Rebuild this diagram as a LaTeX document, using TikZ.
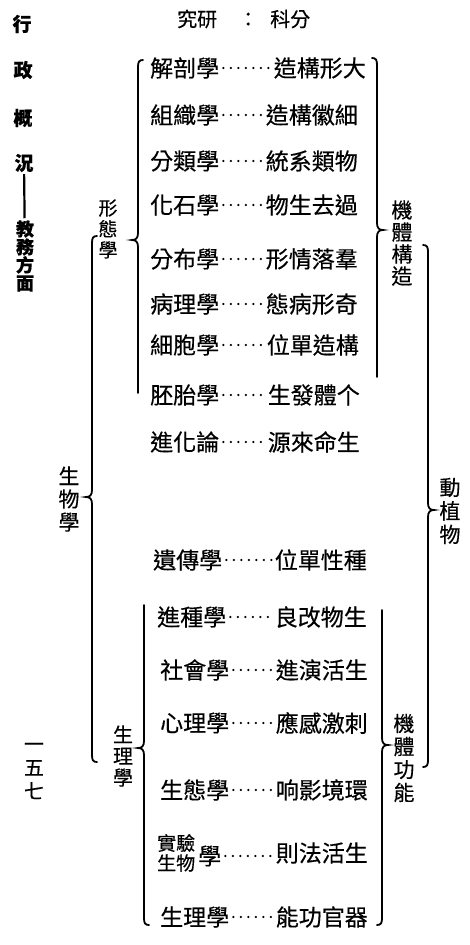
\documentclass[tikz,border=0pt]{standalone}
\usepackage{fontspec}
\setmainfont{Noto Sans CJK TC}[FakeBold=0.4]
% brace: #1 x, #2 ytop, #3 ytip, #4 ybottom, #5 top hook (1/0), #6 bottom hook (1/0), #7 direction ((1) opens right, (-1) opens left)
\newcommand\Brc[7]{%
  \draw[brc] ({#1+#7*5*#5},{-#2}) .. controls ({#1+#7*#5},{-#2}) and ({#1},{-#2-2*#5}) .. ({#1},{-#2-7*#5})
    -- ({#1},{-#3+7}) .. controls ({#1},{-#3+2}) and ({#1-#7*2},{-#3}) .. ({#1-#7*6},{-#3})
    .. controls ({#1-#7*2},{-#3}) and ({#1},{-#3-2}) .. ({#1},{-#3-7})
    -- ({#1},{-#4+7*#6}) .. controls ({#1},{-#4+2*#6}) and ({#1+#7*#6},{-#4}) .. ({#1+#7*5*#6},{-#4});}
\tikzset{
  txt/.style={inner sep=0pt, font=\fontsize{23}{23}\selectfont},
  lt/.style={txt, anchor=west},
  rt/.style={txt, anchor=east},
  small/.style={inner sep=0pt, anchor=west, font=\fontsize{19}{19}\selectfont},
  lead/.style={line width=2.4pt, line cap=round, dash pattern=on 0pt off 7.5pt, shorten <=4pt, shorten >=3pt},
  brc/.style={line width=1.8pt, line cap=round},
  vlab/.style={inner sep=0pt, align=center},
  side/.style={inner sep=0pt, font=\bfseries\fontsize{19}{19}\selectfont},
}
\begin{document}
\begin{tikzpicture}[x=1pt,y=1pt]
\fill[white] (0,0) rectangle (469,-945);
\useasboundingbox (0,0) rectangle (469,-945);

% left column
\node[side] (c1) at (22,-24) {行};
\node[side] (c2) at (23,-70) {政};
\node[side] (c3) at (23,-118) {概};
\node[side] (c4) at (24,-163) {況};
\node[side, align=center, font=\bfseries\fontsize{18}{18}\selectfont] (c5) at (25,-256) {教\\務\\方\\面};
\draw[line width=2.2pt, shorten <=2pt, shorten >=2pt] (c4) -- (c5);
\node[vlab, font=\fontsize{20}{23.5}\selectfont] (pg) at (34,-771) {一\\五\\七};

% title
\node[anchor=west, inner sep=0pt, font=\fontsize{20}{20}\selectfont] (title) at (177,-19) {究研\hspace{21pt}：\hspace{12pt}科分};

% rows
\node[lt] (l1) at (150,-68) {解剖學};   \node[rt] (r1) at (366,-68) {造構形大};
\node[lt] (l2) at (150,-115) {組織學};  \node[rt] (r2) at (358,-115) {造構徽細};
\node[lt] (l3) at (150,-161) {分類學};  \node[rt] (r3) at (358,-161) {統系類物};
\node[lt] (l4) at (150,-205) {化石學};  \node[rt] (r4) at (358,-205) {物生去過};
\node[lt] (l5) at (150,-259) {分布學};  \node[rt] (r5) at (358,-259) {形情落羣};
\node[lt] (l6) at (150,-304) {病理學};  \node[rt] (r6) at (358,-304) {態病形奇};
\node[lt] (l7) at (150,-345) {細胞學};  \node[rt] (r7) at (359,-345) {位單造構};
\node[lt] (l8) at (150,-395) {胚胎學};  \node[rt] (r8) at (360,-395) {生發體个};
\node[lt] (l9) at (150,-442) {進化論};  \node[rt] (r9) at (360,-442) {源來命生};
\node[lt] (l10) at (153,-560) {遺傳學}; \node[rt] (r10) at (367,-560) {位單性種};
\node[lt] (l11) at (157,-617) {進種學}; \node[rt] (r11) at (367,-617) {良改物生};
\node[lt] (l12) at (160,-670) {社會學}; \node[rt] (r12) at (368,-670) {進演活生};
\node[lt] (l13) at (160,-723) {心理學}; \node[rt] (r13) at (368,-723) {應感激刺};
\node[lt] (l14) at (160,-790) {生態學}; \node[rt] (r14) at (368,-790) {响影境環};
\node[small] (l15a) at (157,-843) {實驗};
\node[small] (l15b) at (157,-863) {生物};
\node[lt] (l15) at (198,-856) {學};     \node[rt] (r15) at (368,-853) {則法活生};
\node[lt] (l16) at (160,-917) {生理學}; \node[rt] (r16) at (368,-917) {能功官器};

% leaders
\foreach \i in {1,...,16} { \draw[lead] (l\i.east) -- (r\i.west |- l\i.east); }

% side labels
\node[vlab, font=\fontsize{19}{21}\selectfont] (xt) at (108,-229) {形\\態\\學};
\node[vlab, font=\fontsize{21}{23}\selectfont] (sw) at (69,-499) {生\\物\\學};
\node[vlab, font=\fontsize{20}{21.5}\selectfont] (sl) at (123,-756) {生\\理\\學};
\node[vlab, font=\fontsize{21}{22}\selectfont] (jg) at (402,-243) {機\\體\\構\\造};
\node[vlab, font=\fontsize{21}{23.5}\selectfont] (dz) at (450,-511) {動\\植\\物};
\node[vlab, font=\fontsize{21}{23}\selectfont] (jn) at (404,-758) {機\\體\\功\\能};

% braces
\Brc{138}{60}{240}{393}{1}{0}{(1)}
\Brc{377}{58}{230}{377}{1}{0}{(-1)}
\Brc{92}{236}{497}{762}{1}{1}{(1)}
\Brc{428}{245}{510}{767}{1}{1}{(-1)}
\Brc{144}{605}{748}{925}{0}{1}{(1)}
\Brc{382}{610}{745}{925}{0}{1}{(-1)}
\end{tikzpicture}
\end{document}
